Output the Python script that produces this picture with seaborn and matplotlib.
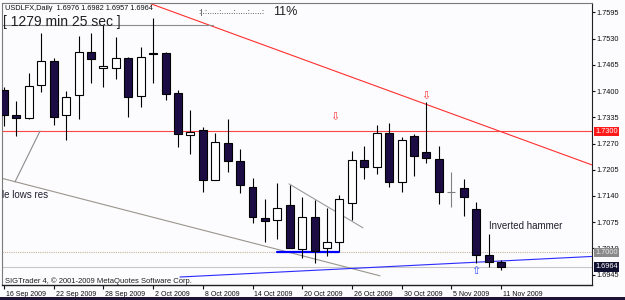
import numpy as np
import matplotlib
matplotlib.use("Agg")
import matplotlib.pyplot as plt
import matplotlib.transforms as mtransforms
from matplotlib.patches import Rectangle
import seaborn as sns

# ---------------- data ----------------
symbol = "USDLFX,Daily"
last_ohlc = [1.6976, 1.6982, 1.6957, 1.6964]
opens  = [1.7403, 1.7341, 1.7333, 1.7415, 1.7475, 1.7341, 1.7390, 1.7497, 1.7457, 1.7457,
          1.7482, 1.7388, 1.7495, 1.7495, 1.7395, 1.7291, 1.7304, 1.7180, 1.7271, 1.7227,
          1.7162, 1.7085, 1.7080, 1.7118, 1.7008, 1.7088, 1.7011, 1.7026, 1.7123, 1.7229,
          1.7212, 1.7296, 1.7175, 1.7289, 1.7249, 1.7232, 1.7150, 1.7160, 1.7108, 1.6994,
          1.6976]
highs  = [1.7410, 1.7376, 1.7445, 1.7544, 1.7482, 1.7400, 1.7537, 1.7544, 1.7564, 1.7534,
          1.7485, 1.7509, 1.7581, 1.7496, 1.7403, 1.7353, 1.7311, 1.7296, 1.7331, 1.7256,
          1.7185, 1.7132, 1.7172, 1.7167, 1.7137, 1.7130, 1.7110, 1.7142, 1.7252, 1.7264,
          1.7316, 1.7321, 1.7286, 1.7294, 1.7373, 1.7264, 1.7199, 1.7182, 1.7125, 1.7046,
          1.6982]
lows   = [1.7314, 1.7289, 1.7331, 1.7398, 1.7316, 1.7279, 1.7331, 1.7420, 1.7410, 1.7430,
          1.7336, 1.7361, 1.7420, 1.7378, 1.7261, 1.7244, 1.7150, 1.7179, 1.7199, 1.7147,
          1.7073, 1.7026, 1.7033, 1.7010, 1.6986, 1.6974, 1.6991, 1.7004, 1.7080, 1.7182,
          1.7194, 1.7162, 1.7150, 1.7190, 1.7222, 1.7120, 1.7113, 1.7090, 1.6974, 1.6964,
          1.6957]
closes = [1.7341, 1.7333, 1.7413, 1.7475, 1.7336, 1.7385, 1.7497, 1.7480, 1.7462, 1.7482,
          1.7385, 1.7485, 1.7492, 1.7393, 1.7294, 1.7299, 1.7180, 1.7274, 1.7227, 1.7167,
          1.7088, 1.7078, 1.7110, 1.7011, 1.7088, 1.7004, 1.7026, 1.7132, 1.7229, 1.7212,
          1.7296, 1.7175, 1.7279, 1.7239, 1.7234, 1.7150, 1.7150, 1.7137, 1.6994, 1.6976,
          1.6964]

date_ticks = [0, 4, 8, 12, 16, 20, 24, 28, 32, 36, 40]
date_labels = ["16 Sep 2009", "22 Sep 2009", "28 Sep 2009", "2 Oct 2009", "8 Oct 2009",
               "14 Oct 2009", "20 Oct 2009", "26 Oct 2009", "30 Oct 2009", "5 Nov 2009",
               "11 Nov 2009"]
price_ticks = [1.7595, 1.7530, 1.7465, 1.7400, 1.7335, 1.7270, 1.7205, 1.7140,
               1.7075, 1.7010, 1.6945]

resistance_level = 1.7300
round_level = 1.7000
bid_price = 1.6964

# trend lines (bar index, price)
red_trend_x = [11.43, 47.32]
red_trend_y = [1.7621, 1.7217]
lows_res_x = [-0.32, 30.26]
lows_res_y = [1.7185, 1.6942]
short_line_x = [2.90, 0.885]
short_line_y = [1.7301, 1.7175]
wedge_line_x = [22.94, 28.89]
wedge_line_y = [1.7170, 1.7061]
top_line_x = [-0.5, 16.82]
top_line_y = [1.7564, 1.7564]
support_x = [21.97, 26.96]
support_y = [1.7002, 1.7002]
blue_trend_x = [14.16, 47.32]
blue_trend_y = [1.6939, 1.6990]

down_arrows_x = [26.64, 33.96]
down_arrows_y = [1.7336, 1.7388]
up_arrow_x = [37.99]
up_arrow_y = [1.6955]

# ---------------- style ----------------
sns.set_theme(style="white")
plt.rcParams['font.family'] = ['Liberation Sans', 'DejaVu Sans']

W, H = 625, 300
BG = '#fcfbfd'
fig = plt.figure(figsize=(W / 100, H / 100), dpi=100, facecolor=BG)

L, R, T, B = 2, 592, 3, 285
ax = fig.add_axes([L / W, 1 - B / H, (R - L) / W, (B - T) / H], facecolor=BG)

def px2bar(x):
    return (x - 4) / 12.425

def px2price(y):
    return 1.7626 - 0.000248 * y

ax.set_xlim(px2bar(L), px2bar(R))
ax.set_ylim(px2price(B), px2price(T))

# ---------------- candles ----------------
o = np.array(opens); h = np.array(highs); lo = np.array(lows); c = np.array(closes)
x = np.arange(len(o))
doji = np.isclose(o, c)
up = c > o
wick_col = np.where(doji, '#808080', 'black')
ax.vlines(x, lo, h, colors=wick_col, lw=0.8, zorder=3)
body_bot = np.minimum(o, c)
body_h = np.abs(c - o)
face = np.where(up, 'white', '#1c0c44')
edge = np.where(doji, '#808080', 'black')
ax.bar(x, body_h, bottom=body_bot, width=0.64, color=face, edgecolor=edge, lw=0.8, zorder=4)

# ---------------- lines ----------------
ax.axhline(resistance_level, color='#ff4646', lw=0.8, zorder=2)
ax.axhline(round_level, color='#c8b49a', lw=0.8, ls=(0, (1, 1)), zorder=2)
ax.axhline(bid_price, color='#c8c8c8', lw=0.8, zorder=2)
ax.plot(red_trend_x, red_trend_y, color='#ff3030', lw=0.8, zorder=2)
ax.plot(lows_res_x, lows_res_y, color='#9a968c', lw=0.8, zorder=2)
ax.plot(short_line_x, short_line_y, color='#8c8c8c', lw=0.8, zorder=2)
ax.plot(wedge_line_x, wedge_line_y, color='#9a9a9a', lw=0.8, zorder=2)
ax.plot(top_line_x, top_line_y, color='#8c8c8c', lw=0.8, zorder=2)
ax.plot(support_x, support_y, color='#0000ff', lw=1.6, zorder=2)
ax.plot(blue_trend_x, blue_trend_y, color='#2a2aff', lw=0.8, zorder=2)

for xa, ya in zip(down_arrows_x, down_arrows_y):
    ax.text(xa, ya, '\u21e9', color='#ff3b3b', fontsize=8, ha='center', va='center',
            family='DejaVu Sans', zorder=5)
for xa, ya in zip(up_arrow_x, up_arrow_y):
    ax.text(xa, ya, '\u21e7', color='#3050ff', fontsize=8, ha='center', va='center',
            family='DejaVu Sans', zorder=5)

ax.text(39.0, px2price(226), 'Inverted hammer', fontsize=7, color='#202030', ha='left', va='center')
ax.text(px2bar(2), px2price(195), 'le lows res', fontsize=7, color='#202030', ha='left', va='center')

# ---------------- axes ----------------
for s in ax.spines.values():
    s.set_color('#7a7a7a'); s.set_linewidth(0.8)
ax.spines['right'].set_color('#202020')
ax.spines['bottom'].set_color('#202020')
ax.spines['bottom'].set_linewidth(1.0)

ax.yaxis.tick_right()
ax.set_yticks(price_ticks)
ax.set_yticklabels([f'{v:.4f}' for v in price_ticks])
ax.tick_params(axis='y', right=True, left=False, length=2, width=0.8, colors='#101010',
               labelsize=5.3, pad=1.5)
ax.set_xticks(date_ticks)
ax.set_xticklabels(date_labels, ha='left')
ax.tick_params(axis='x', bottom=True, length=3, width=0.8, colors='#101010', labelsize=5.0, pad=1.5)
off = mtransforms.ScaledTranslation(2 / 100, 0, fig.dpi_scale_trans)
for lab in ax.get_xticklabels():
    lab.set_transform(lab.get_transform() + off)
ax.grid(False)

# label boxes on price scale
ytrans = mtransforms.blended_transform_factory(ax.transAxes, ax.transData)
for val, fc, tc in [(resistance_level, '#ff1a1a', 'white'), (round_level, '#8a8a8a', '#e8e8e8'),
                    (bid_price, '#101030', 'white')]:
    ax.text(1.006, val, f'{val:.4f}', transform=ytrans, fontsize=5.3, color=tc, ha='left',
            va='center', bbox=dict(boxstyle='square,pad=0.15', fc=fc, ec='none'), zorder=6,
            clip_on=False)

# ---------------- header texts ----------------
def fx(xp): return xp / W
def fy(yp): return 1 - yp / H

fig.text(fx(5), fy(8), f"{symbol}  " + ' '.join(f'{v:.4f}' for v in last_ohlc),
         fontsize=5.3, color='#101010', ha='left', va='center')
fig.text(fx(3), fy(22), '[ 1279 min 25 sec ]', fontsize=10, color='#202020', ha='left', va='center')
fig.text(fx(198), fy(13), ':|.:.....:.....:.....:.....:', fontsize=6, color='#202020',
         ha='left', va='center')
fig.text(fx(273), fy(12), '11%', fontsize=9, color='#202020', ha='left', va='center')
fig.text(fx(5), fy(281), 'SIGTrader 4, \u00a9 2001-2009 MetaQuotes Software Corp.', fontsize=5.5,
         color='#202020', ha='left', va='center')

# window border at bottom
fig.patches.append(Rectangle((0, 0), 1, 3 / H, transform=fig.transFigure, fc='#1e1438', ec='none'))

fig.savefig('out.png', dpi=100, facecolor=BG)
